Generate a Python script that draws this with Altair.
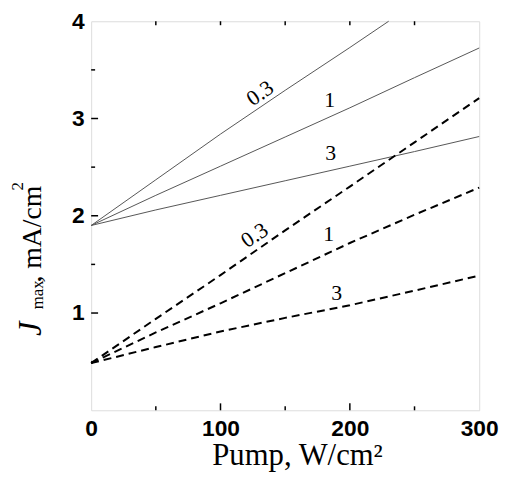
import altair as alt
import pandas as pd

# ---- data ----
pump = [0, 50, 100, 150, 200, 250, 300]
pump_s03 = [0, 50, 100, 150, 200, 230]
solid_03 = [1.90, 2.37, 2.84, 3.29, 3.73, 4.00]
solid_1 = [1.90, 2.21, 2.51, 2.81, 3.11, 3.42, 3.725]
solid_3 = [1.90, 2.06, 2.21, 2.36, 2.51, 2.66, 2.815]
dashed_03 = [0.485, 0.94, 1.39, 1.85, 2.30, 2.755, 3.21]
dashed_1 = [0.485, 0.80, 1.10, 1.41, 1.72, 2.01, 2.29]
dashed_3 = [0.485, 0.65, 0.81, 0.95, 1.08, 1.23, 1.385]

label_text = ["0.3", "1", "3", "0.3", "1", "3"]
label_x = [130.5, 184.4, 185.2, 126.3, 183.7, 189.8]
label_y = [3.26, 3.19, 2.64, 1.80, 1.81, 1.21]
label_angle = [325, 0, 0, 326, 0, 0]

x_ticklabels = [0, 100, 200, 300]
y_ticklabels = [1, 2, 3, 4]
x_major = [100, 200]
x_minor = [50, 150, 250]
x_top = [50, 100, 150, 200, 250]
y_major = [1, 2, 3]
y_minor = [0.5, 1.5, 2.5, 3.5]

W, H = 392, 393

solid_rows = []
for name, xs, ys in [("0.3", pump_s03, solid_03), ("1", pump, solid_1), ("3", pump, solid_3)]:
    for a, b in zip(xs, ys):
        solid_rows.append({"pump": a, "J": b, "series": name})
dashed_rows = []
for name, ys in [("0.3", dashed_03), ("1", dashed_1), ("3", dashed_3)]:
    for a, b in zip(pump, ys):
        dashed_rows.append({"pump": a, "J": b, "series": name})
df_solid = pd.DataFrame(solid_rows)
df_dashed = pd.DataFrame(dashed_rows)
df_labels = pd.DataFrame({"pump": label_x, "J": label_y, "t": label_text, "a": label_angle})

xscale = alt.Scale(domain=[0, 300], nice=False, zero=False)
yscale = alt.Scale(domain=[0, 4], nice=False, zero=False)

xaxis = alt.Axis(
    values=x_ticklabels, ticks=False, tickSize=0, domain=False, grid=False, format="d",
    labelFont="Liberation Sans", labelFontSize=23, labelFontWeight="bold",
    labelColor="black", labelPadding=7, labelFlush=False, labelOverlap=False,
    labelBound=False, labelAlign="center",
    title="Pump, W/cm²", titleFont="Liberation Serif", titleFontSize=31,
    titleFontWeight="normal", titleColor="black", titleX=208, titleY=55,
    titleBaseline="alphabetic", titleAlign="center", titleAnchor="start",
)
yaxis = alt.Axis(
    values=y_ticklabels, ticks=False, tickSize=0, domain=False, grid=False, format="d",
    labelFont="Liberation Sans", labelFontSize=23, labelFontWeight="bold",
    labelColor="black", labelPadding=7, labelFlush=False, labelOverlap=False,
    labelBound=False, labelAlign="right", labelBaseline="middle",
    title=None,
)

solid = alt.Chart(df_solid).mark_line(color="#555555", strokeWidth=1).encode(
    x=alt.X("pump:Q", scale=xscale, axis=xaxis),
    y=alt.Y("J:Q", scale=yscale, axis=yaxis),
    detail="series:N",
)
dashed = alt.Chart(df_dashed).mark_line(color="black", strokeWidth=2, strokeDash=[8, 5]).encode(
    x=alt.X("pump:Q", scale=xscale),
    y=alt.Y("J:Q", scale=yscale),
    detail="series:N",
)
labels = alt.Chart(df_labels).mark_text(
    font="Liberation Serif", fontSize=22, color="black", align="center", baseline="middle"
).encode(
    x=alt.X("pump:Q", scale=xscale),
    y=alt.Y("J:Q", scale=yscale),
    text="t:N",
    angle=alt.Angle("a:Q", scale=None),
)

def xticks(vals, y0, y1):
    return alt.Chart(pd.DataFrame({"pump": vals})).mark_rule(color="black", strokeWidth=1.5).encode(
        x=alt.X("pump:Q", scale=xscale), y=alt.value(y0), y2=alt.value(y1))

def yticks(vals, x0, x1):
    return alt.Chart(pd.DataFrame({"J": vals})).mark_rule(color="black", strokeWidth=1.5).encode(
        y=alt.Y("J:Q", scale=yscale), x=alt.value(x0), x2=alt.value(x1))

ticks = [
    xticks(x_major, H, H - 7),
    xticks(x_minor, H, H - 4),
    xticks(x_top, 0, 4),
    yticks(y_major, 0, 7),
    yticks(y_minor, 0, 4),
]

def title_piece(txt, size, x, y, style="normal"):
    return alt.Chart(pd.DataFrame({"t": [txt]})).mark_text(
        font="Liberation Serif", fontSize=size, fontStyle=style, color="black",
        align="left", baseline="alphabetic", angle=270,
    ).encode(text="t:N", x=alt.value(x), y=alt.value(y))

ytitle = [
    title_piece("J", 33, -51, 318, "italic"),
    title_piece("max", 17, -49, 291),
    title_piece(", mA/cm", 28, -51, 264),
    title_piece("2", 17, -69, 171),
]

chart = alt.layer(solid, dashed, labels, *ticks, *ytitle).properties(
    width=W, height=H,
    autosize=alt.AutoSizeParams(type="none"),
    padding={"left": 84, "top": 11, "right": 20, "bottom": 64},
).configure_view(stroke="black", strokeWidth=2).configure(background="white")

chart.save("out.html", embed_options={"renderer": "svg", "actions": False})
